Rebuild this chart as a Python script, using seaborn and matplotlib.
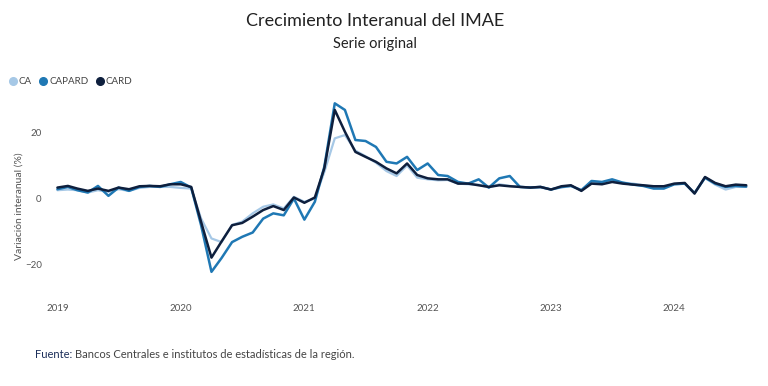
import pandas as pd
import numpy as np
import seaborn as sns
import matplotlib.pyplot as plt
import matplotlib.dates as mdates
from matplotlib.lines import Line2D

# ******************
# data (monthly Jan 2019 - Aug 2024)
# ******************
months = pd.date_range('2019-01-01', periods=68, freq='MS')

ca = [
    2.5, 2.7, 2.5, 1.8, 2.5, 2.0, 2.8, 2.3, 3.2, 3.5, 3.5, 3.5,
    3.2, 3.0, -6.0, -12.1, -13.2, -8.0, -7.0, -4.5, -2.5, -1.8, -3.0, 0.5,
    -1.0, 0.0, 8.0, 18.2, 19.2, 14.5, 12.8, 10.8, 8.3, 6.8, 10.0, 6.3,
    5.8, 5.5, 5.6, 4.5, 4.3, 4.2, 3.3, 4.3, 3.8, 3.5, 3.4, 3.3,
    2.8, 3.3, 3.8, 2.6, 5.0, 4.8, 5.5, 4.8, 4.5, 4.0, 3.5, 3.3,
    4.3, 4.5, 1.8, 6.2, 4.2, 2.7, 3.5, 3.5,
]
capard = [
    2.8, 3.5, 2.5, 1.8, 3.8, 0.8, 3.3, 2.3, 3.5, 3.8, 3.5, 4.3,
    5.0, 3.3, -8.0, -22.2, -18.0, -13.2, -11.6, -10.3, -6.1, -4.5, -5.1, 0.0,
    -6.4, -1.0, 9.6, 28.8, 26.8, 17.7, 17.4, 15.6, 11.1, 10.6, 12.6, 8.6,
    10.6, 7.1, 6.8, 5.0, 4.5, 5.8, 3.3, 6.1, 6.8, 3.5, 3.3, 3.5,
    2.7, 3.5, 3.8, 2.5, 5.3, 5.0, 5.8, 4.8, 4.2, 3.8, 3.0, 3.0,
    4.3, 4.5, 1.6, 6.3, 4.5, 3.5, 3.8, 3.6,
]
card = [
    3.3, 3.8, 3.0, 2.3, 3.0, 2.3, 3.3, 2.8, 3.7, 3.8, 3.7, 4.3,
    4.3, 3.5, -7.0, -17.9, -13.0, -8.1, -7.4, -5.5, -3.5, -2.3, -3.5, 0.3,
    -1.3, 0.3, 9.1, 26.8, 20.2, 14.1, 12.6, 11.1, 9.1, 7.6, 10.6, 7.1,
    6.1, 5.8, 5.8, 4.5, 4.5, 4.0, 3.5, 4.0, 3.7, 3.5, 3.3, 3.5,
    2.7, 3.7, 4.0, 2.3, 4.5, 4.3, 5.0, 4.5, 4.2, 4.0, 3.7, 3.7,
    4.5, 4.7, 1.5, 6.5, 4.7, 3.7, 4.2, 4.0,
]

series_names = ['CA', 'CAPARD', 'CARD']
colors = {'CA': '#a6c8e6', 'CAPARD': '#1f78b4', 'CARD': '#0e1f3d'}
widths = {'CA': 1.6, 'CAPARD': 1.8, 'CARD': 1.8}

df = pd.DataFrame({'fecha': months, 'CA': ca, 'CAPARD': capard, 'CARD': card})
long_df = df.melt(id_vars='fecha', var_name='serie', value_name='valor')

# ******************
# plot
# ******************
sns.set_theme(style='white')
plt.rcParams['font.family'] = ['Lato', 'DejaVu Sans']

fig = plt.figure(figsize=(7.68, 3.86), dpi=100)
ax = fig.add_axes([0.0651, 0.2487, 0.918, 0.505])

for name in series_names:
    sns.lineplot(data=long_df[long_df.serie == name], x='fecha', y='valor',
                 color=colors[name], linewidth=widths[name], ax=ax, legend=False)

ax.set_xlim(months[0] - pd.Timedelta(days=22), months[-1] + pd.Timedelta(days=26))
ax.set_ylim(-27.7, 31.3)
ax.set_yticks([-20, 0, 20])
ax.xaxis.set_major_locator(mdates.YearLocator())
ax.xaxis.set_major_formatter(mdates.DateFormatter('%Y'))
ax.tick_params(axis='x', length=0, pad=10, labelsize=7, labelcolor='#555555')
ax.tick_params(axis='y', length=0, pad=6, labelsize=7, labelcolor='#555555')
sns.despine(ax=ax, left=True, bottom=True)
ax.set_xlabel('')
ax.set_ylabel('Variación interanual (%)', fontsize=7.5, color='#555555')
ax.yaxis.set_label_coords(-0.037, 0.43)

# titles
fig.text(0.488, 0.945, 'Crecimiento Interanual del IMAE', ha='center', va='center',
         fontsize=13, color='#222222')
fig.text(0.488, 0.885, 'Serie original', ha='center', va='center',
         fontsize=10.5, color='#222222')

# legend
handles = [Line2D([], [], marker='o', linestyle='none', markersize=5.5,
                  markerfacecolor=colors[n], markeredgecolor=colors[n]) for n in series_names]
fig.legend(handles, series_names, loc='center left', bbox_to_anchor=(0.005, 1 - 82 / 386),
           ncol=3, frameon=False, fontsize=7, labelcolor='#444444',
           handletextpad=0.1, columnspacing=0.7, handlelength=1.0, borderaxespad=0)

# source note
src = fig.text(35 / 768, 1 - 354 / 386, 'Fuente:', ha='left', va='center',
               fontsize=8, color='#1c2f5a')
fig.canvas.draw()
bb = src.get_window_extent()
fig.text(bb.x1 / 768 + 0.004, 1 - 354 / 386,
         'Bancos Centrales e institutos de estadísticas de la región.',
         ha='left', va='center', fontsize=8, color='#444444')

plt.savefig('out.png', dpi=100)
